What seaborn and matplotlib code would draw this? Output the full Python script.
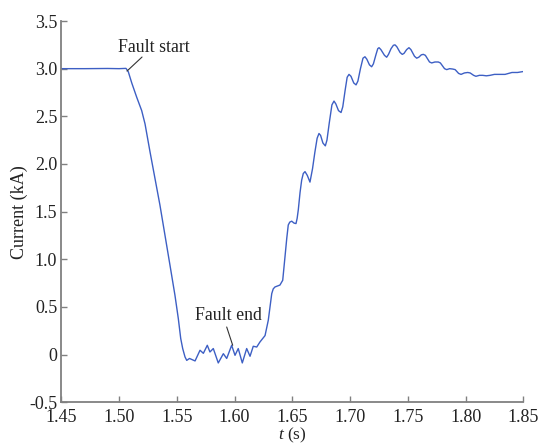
import matplotlib
matplotlib.use("Agg")
import matplotlib.pyplot as plt
import seaborn as sns
import pandas as pd

# ---- data ----
t_s = [1.4500, 1.4700, 1.4900, 1.5000, 1.5060, 1.5080, 1.5110, 1.5153, 1.5196, 1.5225,
       1.5268, 1.5311, 1.5354, 1.5398, 1.5441, 1.5484, 1.5513, 1.5534, 1.5551, 1.5571,
       1.5586, 1.5610, 1.5629, 1.5658, 1.5680, 1.5701, 1.5730, 1.5764, 1.5787, 1.5816,
       1.5859, 1.5903, 1.5932, 1.5975, 1.6004, 1.6032, 1.6067, 1.6105, 1.6134, 1.6162,
       1.6192, 1.6220, 1.6264, 1.6292, 1.6307, 1.6322, 1.6335, 1.6350, 1.6393, 1.6417,
       1.6427, 1.6437, 1.6452, 1.6465, 1.6478, 1.6495, 1.6515, 1.6532, 1.6542, 1.6552,
       1.6567, 1.6581, 1.6595, 1.6610, 1.6630, 1.6653, 1.6675, 1.6695, 1.6715, 1.6731,
       1.6745, 1.6765, 1.6786, 1.6800, 1.6820, 1.6843, 1.6861, 1.6877, 1.6900, 1.6922,
       1.6937, 1.6957, 1.6975, 1.6991, 1.7008, 1.7032, 1.7052, 1.7068, 1.7090, 1.7112,
       1.7129, 1.7145, 1.7168, 1.7187, 1.7202, 1.7225, 1.7240, 1.7251, 1.7267, 1.7298,
       1.7317, 1.7333, 1.7355, 1.7375, 1.7389, 1.7405, 1.7433, 1.7452, 1.7467, 1.7490,
       1.7510, 1.7527, 1.7558, 1.7577, 1.7595, 1.7617, 1.7634, 1.7652, 1.7688, 1.7707,
       1.7735, 1.7764, 1.7782, 1.7818, 1.7837, 1.7862, 1.7889, 1.7910, 1.7940, 1.7961,
       1.7990, 1.8019, 1.8040, 1.8070, 1.8090, 1.8120, 1.8148, 1.8180, 1.8212, 1.8250,
       1.8284, 1.8342, 1.8402, 1.8450, 1.8500]
current_ka = [3.000, 3.000, 3.002, 3.000, 3.003, 2.968, 2.850, 2.700, 2.560, 2.420,
              2.128, 1.849, 1.569, 1.253, 0.938, 0.623, 0.379, 0.169, 0.064, -0.024,
              -0.060, -0.040, -0.050, -0.066, -0.010, 0.046, 0.014, 0.098, 0.028, 0.064,
              -0.087, 0.010, -0.040, 0.098, -0.007, 0.064, -0.087, 0.064, -0.017, 0.088,
              0.080, 0.133, 0.200, 0.360, 0.500, 0.640, 0.690, 0.710, 0.730, 0.780,
              0.900, 1.030, 1.220, 1.360, 1.390, 1.400, 1.380, 1.375, 1.430, 1.520,
              1.700, 1.830, 1.900, 1.920, 1.880, 1.810, 1.950, 2.120, 2.270, 2.320,
              2.300, 2.220, 2.190, 2.250, 2.430, 2.620, 2.660, 2.630, 2.560, 2.540,
              2.600, 2.770, 2.910, 2.940, 2.920, 2.850, 2.830, 2.870, 3.000, 3.110,
              3.125, 3.100, 3.040, 3.020, 3.050, 3.150, 3.210, 3.220, 3.200, 3.140,
              3.120, 3.150, 3.210, 3.245, 3.250, 3.230, 3.170, 3.150, 3.160, 3.200,
              3.220, 3.200, 3.130, 3.110, 3.120, 3.145, 3.150, 3.140, 3.070, 3.060,
              3.070, 3.070, 3.060, 3.000, 2.990, 3.000, 2.996, 2.990, 2.950, 2.940,
              2.955, 2.960, 2.955, 2.930, 2.920, 2.930, 2.930, 2.925, 2.930, 2.940,
              2.940, 2.940, 2.960, 2.960, 2.970]

x_ticks = [1.45, 1.50, 1.55, 1.60, 1.65, 1.70, 1.75, 1.80, 1.85]
x_tick_labels = ["1.45", "1.50", "1.55", "1.60", "1.65", "1.70", "1.75", "1.80", "1.85"]
y_ticks = [-0.5, 0.0, 0.5, 1.0, 1.5, 2.0, 2.5, 3.0, 3.5]
y_tick_labels = ["-0.5", "0", "0.5", "1.0", "1.5", "2.0", "2.5", "3.0", "3.5"]

sns.set_theme(style="ticks")
plt.rcParams["font.family"] = ["Liberation Serif", "DejaVu Serif"]
plt.rcParams["mathtext.fontset"] = "custom"
plt.rcParams["mathtext.it"] = "Liberation Serif:italic"
plt.rcParams["mathtext.rm"] = "Liberation Serif"

df = pd.DataFrame({"t": t_s, "current": current_ka})

fig = plt.figure(figsize=(5.42, 4.44), dpi=100)
ax = fig.add_axes([0.1131, 0.0939, 0.8524, 0.8588])

sns.lineplot(data=df, x="t", y="current", ax=ax, color="#3d5fc4",
             linewidth=1.0, sort=False, estimator=None)

ax.set_xlim(1.45, 1.85)
ax.set_ylim(-0.5, 3.5)
ax.set_xticks(x_ticks)
ax.set_xticklabels(x_tick_labels)
ax.set_yticks(y_ticks)
ax.set_yticklabels(y_tick_labels)

for side in ["top", "right"]:
    ax.spines[side].set_visible(False)
for side in ["left", "bottom"]:
    ax.spines[side].set_color("#808080")
    ax.spines[side].set_linewidth(1.3)

ax.tick_params(axis="both", direction="in", length=4, width=1.0,
               color="#808080", labelsize=13, labelcolor="#222222")
ax.tick_params(axis="x", pad=4.5)
ax.tick_params(axis="y", pad=3)

ax.set_xlabel(r"$t$ (s)", fontsize=12.5, color="#222222", labelpad=0.5)
ax.set_ylabel("Current (kA)", fontsize=13, color="#222222", labelpad=1)

ax.text(1.5303, 3.227, "Fault start", ha="center", va="center",
        fontsize=12.8, color="#222222")
ax.annotate("", xy=(1.5069, 2.975), xytext=(1.5199, 3.122),
            arrowprops=dict(arrowstyle="-", color="#333333", lw=0.8,
                            shrinkA=0, shrinkB=0))
ax.text(1.5948, 0.408, "Fault end", ha="center", va="center",
        fontsize=12.8, color="#222222")
ax.annotate("", xy=(1.5984, 0.098), xytext=(1.5932, 0.29),
            arrowprops=dict(arrowstyle="-", color="#333333", lw=0.8,
                            shrinkA=0, shrinkB=0))

fig.savefig("out.png", dpi=100)
